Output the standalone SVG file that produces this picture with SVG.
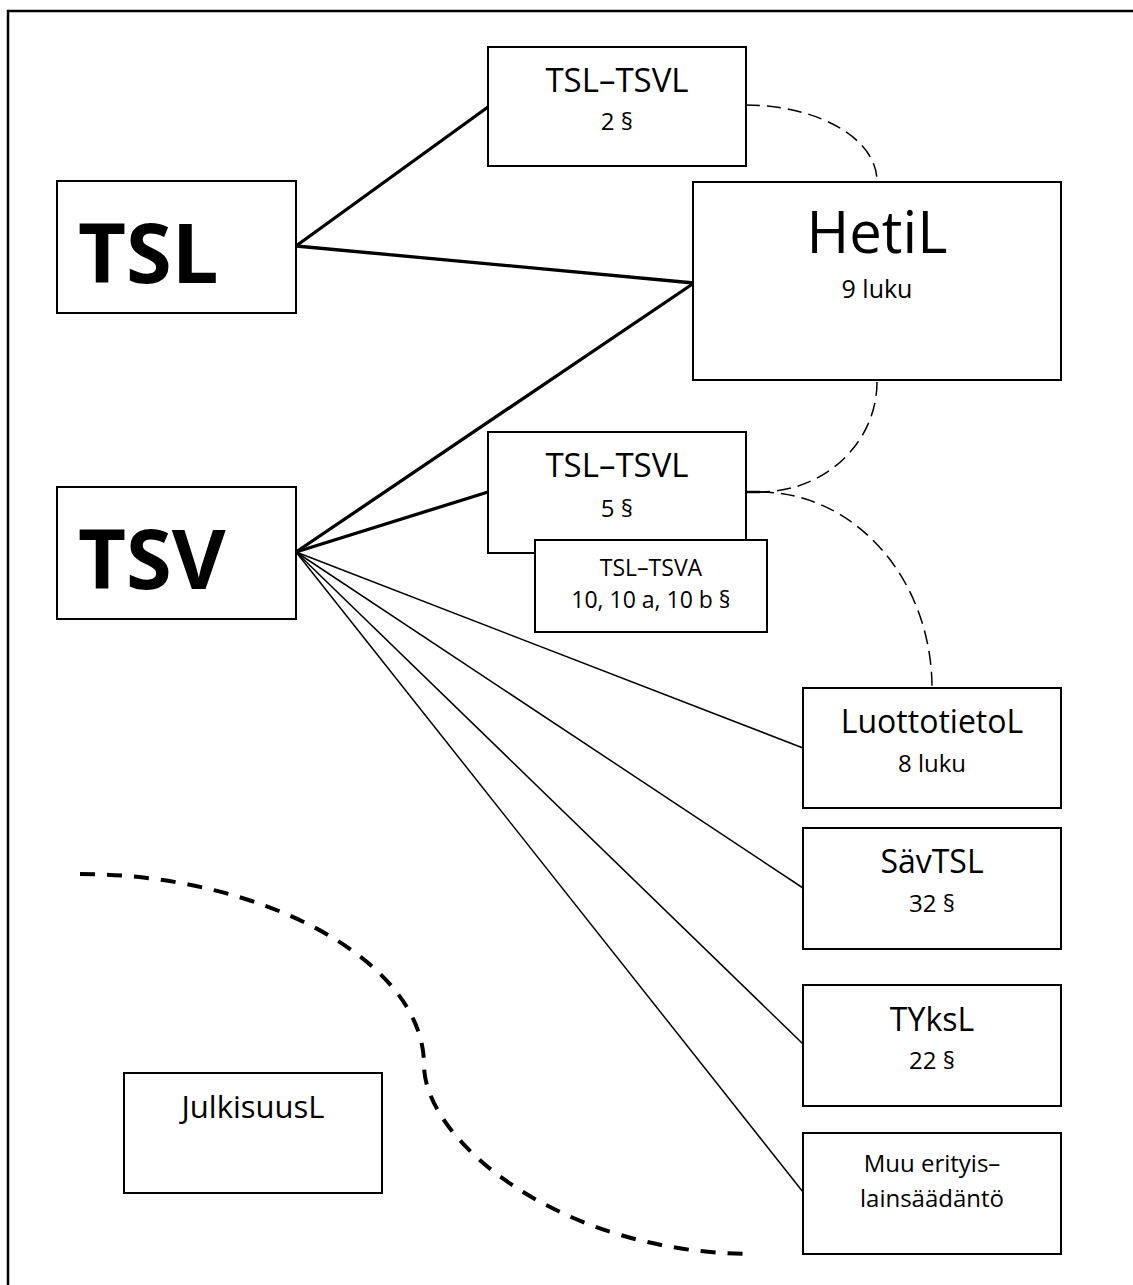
<svg xmlns="http://www.w3.org/2000/svg" width="1133" height="1285" viewBox="0 0 1133 1285">
<style>
.box{fill:#fff;stroke:#000;stroke-width:2}
.t{font-family:"Open Sans","Liberation Sans",sans-serif;fill:#000;text-anchor:middle}
.big{font-family:"Open Sans","Liberation Sans",sans-serif;font-weight:bold;font-size:83px;fill:#000}
.thick{stroke:#000;stroke-width:3.3;fill:none;stroke-linecap:round}
.thin{stroke:#000;stroke-width:1.5;fill:none}
.dash{stroke:#000;stroke-width:1.5;fill:none;stroke-dasharray:14 7}
.bigdash{stroke:#000;stroke-width:4;fill:none;stroke-dasharray:15 12}
</style>
<rect width="1133" height="1285" fill="#fff"/>
<rect x="8" y="11" width="1140" height="1300" fill="none" stroke="#000" stroke-width="2.5"/>
<g id="connectors">
<line class="thick" x1="296" y1="246" x2="488" y2="107"/>
<line class="thick" x1="296" y1="246" x2="694" y2="283"/>
<line class="thick" x1="296" y1="552" x2="694" y2="283"/>
<line class="thick" x1="296" y1="552" x2="488" y2="492"/>
<line class="thin" x1="296" y1="552" x2="803" y2="748"/>
<line class="thin" x1="296" y1="552" x2="803" y2="888"/>
<line class="thin" x1="296" y1="552" x2="803" y2="1044"/>
<line class="thin" x1="296" y1="552" x2="803" y2="1192"/>
<path class="dash" d="M746,105 A131,76 0 0 1 877,181"/>
<line x1="746" y1="492" x2="760" y2="492" stroke="#000" stroke-width="2.5"/>
<path class="dash" d="M877,382 A117,110 0 0 1 760,492"/>
<path class="dash" d="M760,492 A172,196 0 0 1 932,688"/>
<path class="bigdash" d="M80,874 C260,874 424,960 424,1065 C424,1140 560,1254 754,1254"/>
</g>
<g id="tsl">
<rect class="box" x="57" y="181" width="239" height="132"/>
<text class="big" x="78" y="283">TSL</text>
</g>
<g id="tsv">
<rect class="box" x="57" y="487" width="239" height="132"/>
<text class="big" x="78" y="589">TSV</text>
</g>
<g id="tsl-tsvl-2">
<rect class="box" x="488" y="47" width="258" height="119"/>
<text class="t" x="617" y="92" font-size="33">TSL–TSVL</text>
<text class="t" x="617" y="130" font-size="24">2 §</text>
</g>
<g id="hetil">
<rect class="box" x="693" y="182" width="368" height="198"/>
<text class="t" x="877" y="253" font-size="58">HetiL</text>
<text class="t" x="877" y="298" font-size="25">9 luku</text>
</g>
<g id="tsl-tsvl-5">
<rect class="box" x="488" y="432" width="258" height="121"/>
<text class="t" x="617" y="477" font-size="33">TSL–TSVL</text>
<text class="t" x="617" y="517" font-size="24">5 §</text>
</g>
<g id="tsl-tsva">
<rect class="box" x="535" y="540" width="232" height="92"/>
<text class="t" x="651" y="576" font-size="23">TSL–TSVA</text>
<text class="t" x="651" y="608" font-size="23">10, 10 a, 10 b §</text>
</g>
<g id="luottotietol">
<rect class="box" x="803" y="688" width="258" height="120"/>
<text class="t" x="932" y="733" font-size="32">LuottotietoL</text>
<text class="t" x="932" y="772" font-size="24">8 luku</text>
</g>
<g id="savtsl">
<rect class="box" x="803" y="828" width="258" height="121"/>
<text class="t" x="932" y="873" font-size="32">SävTSL</text>
<text class="t" x="932" y="912" font-size="24">32 §</text>
</g>
<g id="tyksl">
<rect class="box" x="803" y="985" width="258" height="121"/>
<text class="t" x="932" y="1031" font-size="32">TYksL</text>
<text class="t" x="932" y="1069" font-size="24">22 §</text>
</g>
<g id="muu">
<rect class="box" x="803" y="1133" width="258" height="121"/>
<text class="t" x="932" y="1172" font-size="24">Muu erityis–</text>
<text class="t" x="932" y="1207" font-size="24">lainsäädäntö</text>
</g>
<g id="julkisuusl">
<rect class="box" x="124" y="1073" width="258" height="120"/>
<text class="t" x="253" y="1118" font-size="31">JulkisuusL</text>
</g>
</svg>
